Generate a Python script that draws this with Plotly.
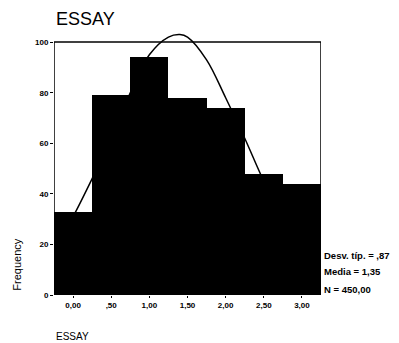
import plotly.graph_objects as go

# Histogram data (bin centres and counts)
bins = [0.0, 0.5, 1.0, 1.5, 2.0, 2.5, 3.0]
counts = [33, 79, 94, 78, 74, 48, 44]
tick_vals = [0.0, 0.5, 1.0, 1.5, 2.0, 2.5, 3.0]
tick_text = ["0,00", ",50", "1,00", "1,50", "2,00", "2,50", "3,00"]
y_tick_vals = [0, 20, 40, 60, 80, 100]

# Normal curve points
curve_x = [-0.1, 0.0, 0.25, 0.5, 0.75, 1.0, 1.25, 1.4, 1.5, 1.75, 2.0, 2.25, 2.5, 2.75, 3.0, 3.2]
curve_y = [26, 31, 46, 62, 80, 95, 102, 103, 102, 93, 78, 62, 45, 30, 18, 12]

stats = ["Desv. típ. = ,87", "Media = 1,35", "N = 450,00"]
stats_y = [15.8, 9.1, 2.0]

FONT = "Liberation Sans, Arial"

fig = go.Figure()
fig.add_trace(go.Bar(x=bins, y=counts, width=0.5, marker=dict(color="black", line=dict(width=0)),
                     showlegend=False))
fig.add_trace(go.Scatter(x=curve_x, y=curve_y, mode="lines",
                         line=dict(color="black", width=1.5, shape="spline"), showlegend=False))

# page body has an 8px margin; figure is sized/offset to compensate
fig.update_layout(
    width=391, height=335,
    margin=dict(l=46, r=78, t=24, b=48),
    paper_bgcolor="white", plot_bgcolor="white",
    bargap=0,
    font=dict(family=FONT, color="black"),
    xaxis=dict(range=[-0.25, 3.25], tickvals=tick_vals, ticktext=tick_text,
               tickfont=dict(size=8, family=FONT, weight="bold"), showgrid=False, zeroline=False,
               ticks="outside", ticklen=2, tickcolor="black", showline=False),
    yaxis=dict(range=[0, 104], tickvals=y_tick_vals, ticktext=[str(v) for v in y_tick_vals],
               tickfont=dict(size=8, family=FONT, weight="bold"), showgrid=False, zeroline=False,
               ticks="outside", ticklen=3, tickcolor="black", showline=False),
)

# Frame (left, top, right) up to y = 100
for x0, y0, x1, y1 in [(-0.25, 0, -0.25, 100), (-0.25, 100, 3.25, 100), (3.25, 0, 3.25, 100)]:
    fig.add_shape(type="line", x0=x0, y0=y0, x1=x1, y1=y1, xref="x", yref="y",
                  line=dict(color="black", width=1.5))

fig.add_annotation(text="ESSAY", xref="paper", yref="paper", x=0.0, y=1.0, xanchor="left", yanchor="middle",
                   xshift=0, yshift=13.5, showarrow=False, font=dict(size=18))
fig.add_annotation(text="Frequency", xref="paper", yref="y", x=0.0, y=12, xanchor="center", yanchor="middle",
                   xshift=-37, textangle=-90, showarrow=False, font=dict(size=11))
fig.add_annotation(text="ESSAY", xref="paper", yref="paper", x=0.0, y=0, xanchor="left", yanchor="middle",
                   yshift=-41, showarrow=False, font=dict(size=10))
for s, yv in zip(stats, stats_y):
    fig.add_annotation(text=s, xref="paper", yref="y", x=1.0, y=yv, xanchor="left", yanchor="middle",
                       xshift=1, showarrow=False, font=dict(size=9.5, weight="bold"))

fig.write_html("out.html")
